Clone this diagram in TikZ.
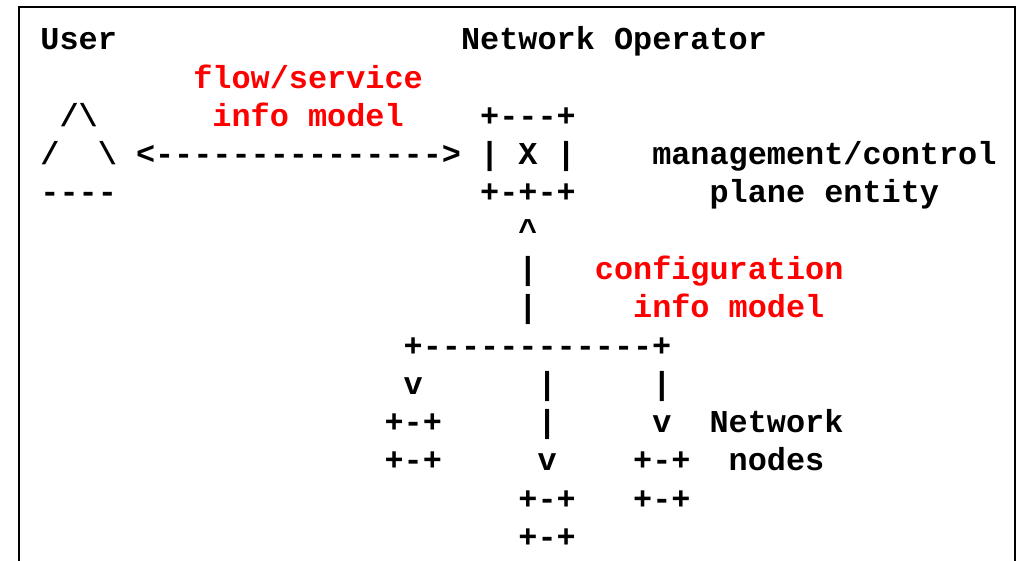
\documentclass[tikz,border=0pt]{standalone}
\usepackage{fontspec}
\newfontfamily\asciimono{Liberation Mono}[Ligatures=TeXOff,WordSpace={1,0,0}]
\begin{document}
\begin{tikzpicture}[x=1pt,y=1pt,
  txt/.style={anchor=base west,inner sep=0pt,outer sep=0pt,
    font=\asciimono\bfseries\fontsize{23.9pt}{28pt}\selectfont,text=black},
  redtxt/.style={txt,text=red},
  frame/.style={draw=black,line width=0.9pt}]
\useasboundingbox (0,0) rectangle (764.25,-420);
\draw[frame] (14.25,-440) -- (14.25,-5.25) -- (761.25,-5.25) -- (761.25,-440);
% grid: column c -> x = 30.3 + 14.34 c ; row r -> y = -(37.4 + 28.7 r)
\def\cx#1{30.3+14.34*#1}
\def\ry#1{-37.4-28.7*#1}
% row 0
\node[txt] (user) at ({\cx{0}},{\ry{0}}) {User};
\node[txt] (netop) at ({\cx{22}},{\ry{0}}) {Network Operator};
% row 1
\node[redtxt] (flow1) at ({\cx{8}},{\ry{1}}) {flow/service};
% row 2
\node[txt] (usertop) at ({\cx{1}},{\ry{2}}) {/\textbackslash};
\node[redtxt] (flow2) at ({\cx{9}},{\ry{2}}) {info model};
\node[txt] (xtop) at ({\cx{23}},{\ry{2}}) {+---+};
% row 3
\node[txt] (userl) at ({\cx{0}},{\ry{3}}) {/};
\node[txt] (userr) at ({\cx{3}},{\ry{3}}) {\textbackslash};
\node[txt] (arrow) at ({\cx{5}},{\ry{3}}) {<--------------->};
\node[txt] (xmid) at ({\cx{23}},{\ry{3}}) {| X |};
\node[txt] (mgmt1) at ({\cx{32}},{\ry{3}}) {management/control};
% row 4
\node[txt] (userbot) at ({\cx{0}},{\ry{4}}) {----};
\node[txt] (xbot) at ({\cx{23}},{\ry{4}}) {+-+-+};
\node[txt] (mgmt2) at ({\cx{35}},{\ry{4}}) {plane entity};
% row 5-7
\node[txt] (up) at ({\cx{25}},{\ry{5}}) {\textasciicircum};
\node[txt] (bar1) at ({\cx{25}},{\ry{6}}) {|};
\node[redtxt] (conf1) at ({\cx{29}},{\ry{6}}) {configuration};
\node[txt] (bar2) at ({\cx{25}},{\ry{7}}) {|};
\node[redtxt] (conf2) at ({\cx{31}},{\ry{7}}) {info model};
% row 8
\node[txt] (split) at ({\cx{19}},{\ry{8}}) {+------------+};
% row 9
\node[txt] (va) at ({\cx{19}},{\ry{9}}) {v};
\node[txt] (bb1) at ({\cx{26}},{\ry{9}}) {|};
\node[txt] (bc1) at ({\cx{32}},{\ry{9}}) {|};
% row 10
\node[txt] (na1) at ({\cx{18}},{\ry{10}}) {+-+};
\node[txt] (bb2) at ({\cx{26}},{\ry{10}}) {|};
\node[txt] (vc) at ({\cx{32}},{\ry{10}}) {v};
\node[txt] (nn1) at ({\cx{35}},{\ry{10}}) {Network};
% row 11
\node[txt] (na2) at ({\cx{18}},{\ry{11}}) {+-+};
\node[txt] (vb) at ({\cx{26}},{\ry{11}}) {v};
\node[txt] (nc1) at ({\cx{31}},{\ry{11}}) {+-+};
\node[txt] (nn2) at ({\cx{36}},{\ry{11}}) {nodes};
% row 12
\node[txt] (nb1) at ({\cx{25}},{\ry{12}}) {+-+};
\node[txt] (nc2) at ({\cx{31}},{\ry{12}}) {+-+};
% row 13
\node[txt] (nb2) at ({\cx{25}},{\ry{13}}) {+-+};
\end{tikzpicture}
\end{document}
